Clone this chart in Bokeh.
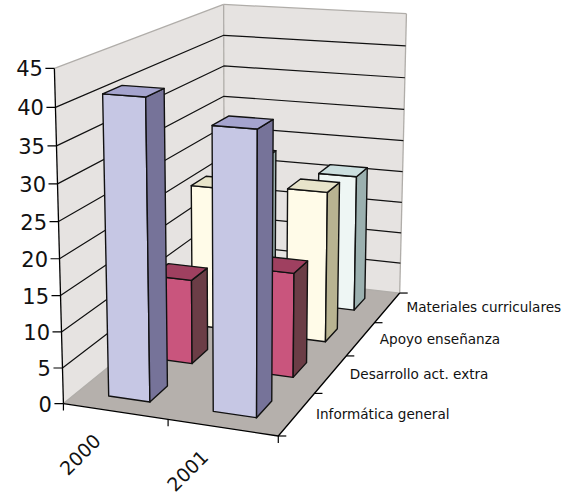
import numpy as np
from bokeh.plotting import figure
from bokeh.models import ColumnDataSource
from bokeh.embed import file_html
from bokeh.resources import INLINE
from bokeh.core.properties import value

years = ["2000", "2001"]
categories = ["Informática general", "Desarrollo act. extra", "Apoyo enseñanza", "Materiales curriculares"]
informatica = [41.2, 38.2]
desarrollo = [12.3, 15]
apoyo = [21.7, 22.6]
materiales = [22.8, 21.3]
series = [informatica, desarrollo, apoyo, materiales]
value_ticks = [0, 5, 10, 15, 20, 25, 30, 35, 40, 45]

FRONT = ["#C6C7E4", "#C9557D", "#FFFBE8", "#EEF6F4"]
TOP = ["#A5A4CE", "#9F4060", "#E8E4CA", "#CBDFDF"]
SIDE = ["#767399", "#6B3D46", "#B8B391", "#9BB0AF"]
WALL = "#E6E3E1"
FLOOR = "#B5B0AC"
EDGE = "#B0ADA9"

W, H = 579, 494

# camera calibration: (category, depth, value) anchors -> page pixels
anchors = [
    ((0, 0, 0), (63, 403)), ((0, 0, 45), (54, 68)),
    ((0, 4, 0), (224, 272)), ((0, 4, 45), (223, 4)),
    ((2, 4, 0), (398, 293)), ((2, 4, 45), (406, 13)),
    ((2, 0, 0), (278, 434)), ((1, 0, 0), (167, 420)),
    ((2, 1, 0), (313, 393)), ((2, 2, 0), (347, 356)), ((2, 3, 0), (375, 322)),
]
A, b = [], []
for (X, Y, Z), (u, v) in anchors:
    A.append([X, Y, Z, 1, 0, 0, 0, 0, -u*X, -u*Y, -u*Z]); b.append(u)
    A.append([0, 0, 0, 0, X, Y, Z, 1, -v*X, -v*Y, -v*Z]); b.append(v)
cam = np.append(np.linalg.lstsq(np.array(A, float), np.array(b, float), rcond=None)[0], 1).reshape(3, 4)


def proj(X, Y, Z):
    q = cam @ np.array([X, Y, Z, 1.0])
    return q[0]/q[2], q[1]/q[2]


def poly(pts):
    p_ = [proj(*t) for t in pts]
    return [a for a, _ in p_], [c for _, c in p_]


p = figure(width=W, height=H, x_range=(0, W), y_range=(H, 0), output_backend="svg",
           toolbar_location=None, min_border=0, outline_line_color=None)
p.axis.visible = False
p.grid.visible = False

NC, ND, ZM = len(years), len(categories), value_ticks[-1]

# walls and floor
xs, ys = poly([(0, 0, 0), (0, ND, 0), (0, ND, ZM), (0, 0, ZM)])
p.patch(xs, ys, fill_color=WALL, line_color=None)
xs, ys = poly([(0, ND, 0), (NC, ND, 0), (NC, ND, ZM), (0, ND, ZM)])
p.patch(xs, ys, fill_color=WALL, line_color=None)
xs, ys = poly([(0, 0, 0), (NC, 0, 0), (NC, ND, 0), (0, ND, 0)])
p.patch(xs, ys, fill_color=FLOOR, line_color=None)

for a, c in [((0, 0, ZM), (0, ND, ZM)), ((0, ND, ZM), (NC, ND, ZM)), ((NC, ND, ZM), (NC, ND, 0)),
             ((0, ND, ZM), (0, ND, 0)), ((0, 0, 0), (0, ND, 0)), ((0, ND, 0), (NC, ND, 0))]:
    xs, ys = poly([a, c])
    p.line(xs, ys, line_color=EDGE, line_width=1.3)

# gridlines
for t in value_ticks[1:-1]:
    xs, ys = poly([(0, 0, t), (0, ND, t), (NC, ND, t)])
    p.line(xs, ys, line_color="#111111", line_width=1.2)

# axes
xs, ys = poly([(0, 0, 0), (0, 0, ZM)])
p.line(xs, ys, line_color="black", line_width=1.3)
xs, ys = poly([(0, 0, 0), (NC, 0, 0), (NC, ND, 0)])
p.line(xs, ys, line_color="black", line_width=1.3)

for t in value_ticks:
    x0, y0 = proj(0, 0, t)
    p.segment([x0-9], [y0], [x0], [y0], line_color="black", line_width=1.2)
for i in range(NC+1):
    x0, y0 = proj(i, 0, 0)
    p.segment([x0], [y0], [x0], [y0+7], line_color="black", line_width=1.2)
for j in range(ND+1):
    x0, y0 = proj(NC, j, 0)
    p.segment([x0], [y0], [x0+8], [y0], line_color="black", line_width=1.2)

# bars, back to front
BAR = 0.4
bx, by, bc = [], [], []
for j in reversed(range(ND)):
    for i in range(NC):
        v = series[j][i]
        x0, x1 = i+.5-BAR/2, i+.5+BAR/2
        y0, y1 = j+.5-BAR/2, j+.5+BAR/2
        for pts, col in [
            ([(x0, y0, 0), (x1, y0, 0), (x1, y0, v), (x0, y0, v)], FRONT[j]),
            ([(x1, y0, 0), (x1, y1, 0), (x1, y1, v), (x1, y0, v)], SIDE[j]),
            ([(x0, y0, v), (x1, y0, v), (x1, y1, v), (x0, y1, v)], TOP[j]),
        ]:
            a, c = poly(pts)
            bx.append(a); by.append(c); bc.append(col)
p.patches("x", "y", fill_color="c", line_color="#111111", line_width=1.4, line_join="round",
          source=ColumnDataSource(dict(x=bx, y=by, c=bc)))

# labels
for t in value_ticks:
    x0, y0 = proj(0, 0, t)
    p.text([x0-11.5], [y0], text=[str(t)], text_font=value("DejaVu Sans"), text_font_size="21px",
           text_align="right", text_baseline="middle", text_color="#111111")
for i, yr in enumerate(years):
    x0, y0 = proj(i+.5, 0, 0)
    p.text([x0-35], [y0+43], text=[yr], angle=np.pi/4, text_font=value("DejaVu Sans"), text_font_size="19px",
           text_align="center", text_baseline="middle", text_color="#111111")
for j, cat in enumerate(categories):
    x0, y0 = proj(NC, j+.5, 0)
    p.text([x0+19], [y0], text=[cat], text_font=value("DejaVu Sans"), text_font_size="13.6px",
           text_align="left", text_baseline="middle", text_color="#111111")

open("out.html", "w").write(file_html(p, INLINE))
